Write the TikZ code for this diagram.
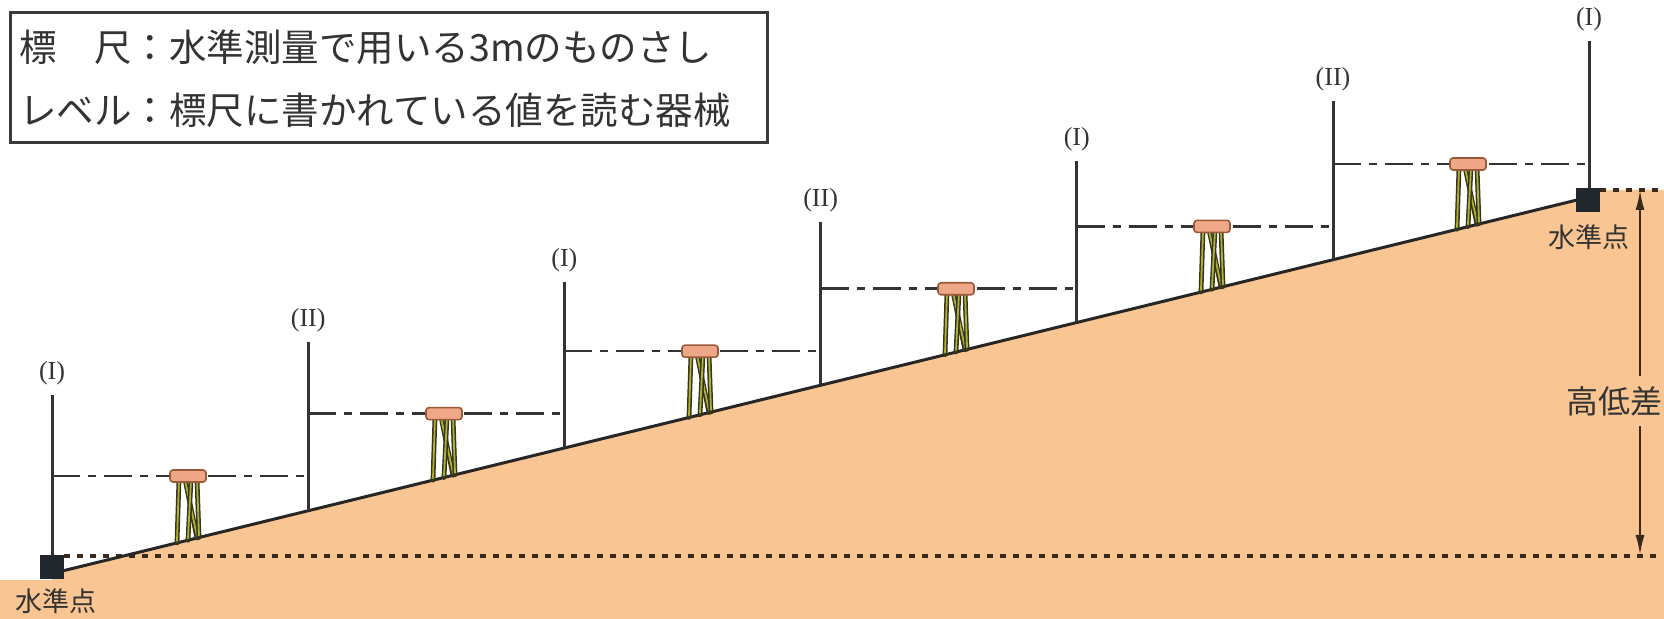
\documentclass[tikz,border=0pt]{standalone}
\usepackage{fontspec}
\setmainfont{Liberation Serif}
\newfontfamily\jpfont{Noto Sans CJK JP}
\usetikzlibrary{arrows.meta,calc}

\definecolor{soil}{HTML}{F9C592}
\definecolor{ink}{HTML}{333333}
\definecolor{boxc}{HTML}{3A3A3A}
\definecolor{benchc}{HTML}{22272E}
\definecolor{dotc}{HTML}{3A2A1C}
\definecolor{headfill}{HTML}{EFA887}
\definecolor{headline}{HTML}{9A5A3A}
\definecolor{legout}{HTML}{34351A}
\definecolor{legin}{HTML}{AEB03A}

\begin{document}
\begin{tikzpicture}[x=0.5pt,y=-0.5pt,
  staffline/.style={draw=ink, line width=1.5pt},
  sightline/.style={draw=ink, line width=1.3pt, dash pattern=on 14pt off 4pt on 4pt off 4pt},
  groundline/.style={draw=black!85, line width=1.5pt},
  levelline/.style={draw=dotc, line width=1.7pt, dash pattern=on 3pt off 3.5pt},
  bench/.style={fill=benchc, minimum size=12pt, inner sep=0pt},
  romanlab/.style={font=\fontsize{13}{13}\selectfont, text=ink, inner sep=0pt},
  jplab/.style={font=\jpfont\fontsize{13.5}{13.5}\selectfont, text=ink, inner sep=0pt},
  legendrow/.style={font=\jpfont\fontsize{18.75}{18.75}\selectfont, text=ink, inner sep=0pt, anchor=west},
  lvhead/.style={draw=headline, fill=headfill, line width=0.8pt, rounded corners=1.5pt,
    minimum width=18pt, minimum height=6pt, inner sep=0pt},
  legouter/.style={draw=legout, line width=2.4pt, line cap=round},
  leginner/.style={draw=legin, line width=0.9pt, line cap=round},
  hdarrow/.style={draw=dotc, line width=1pt,
    {Latex[length=10pt,width=4.5pt]}-{Latex[length=10pt,width=4.5pt]}},
]
\useasboundingbox (0,0) rectangle (1664,619);

% ground body
\fill[soil] (0,580) -- (52,580) -- (52,573.5) -- (1588,197.3) -- (1600,190) -- (1664,190)
  -- (1664,619) -- (0,619) -- cycle;

% bench marks
\node[bench] (bm1) at (52,567) {};
\node[bench] (bm2) at (1588,200) {};

% reference levels through the bench marks
\coordinate (loend) at (1660,556);
\coordinate (hiend) at (1664,190);
\draw[levelline] (bm1.east |- loend) -- (loend);
\draw[levelline] (bm2.east |- hiend) -- (hiend);

% ground surface
\coordinate (g0) at (52,573.5);
\coordinate (g1) at (1588,197.3);
\draw[groundline] (g0) -- (g1);

% staffs with their labels
\foreach \i/\x/\top/\bot/\lab in {0/52/395/567/I, 1/308.2/342/510.7/II, 2/564.4/282/447.9/I,
    3/820.6/222/385.1/II, 4/1076.8/161/322.3/I, 5/1333/101/259.5/II, 6/1589/41/200/I} {
  \coordinate (st\i) at (\x,\top);
  \coordinate (sb\i) at (\x,\bot);
  \draw[staffline] (sb\i) -- (st\i);
  \node[romanlab] (lab\i) at (\x,{\top-22}) {(\lab)};
}

% lines of sight and levels
\foreach \i/\xa/\xb/\y/\cx in {0/52/308.2/476/188, 1/308.2/564.4/413.6/444, 2/564.4/820.6/351.2/700,
    3/820.6/1076.8/288.8/956, 4/1076.8/1333/226.4/1212, 5/1333/1589/164/1468} {
  \coordinate (sa\i) at (\xa,\y);
  \coordinate (sz\i) at (\xb,\y);
  \draw[sightline] (sa\i) -- (sz\i);
  % tripod legs
  \foreach \dt/\db in {-9/-11, -3/9, 3/0, 9/11} {
    \draw[legouter] ({\cx+\dt},{\y+3}) -- ({\cx+\db},{573.5-0.2451*(\cx+\db-52)});
    \draw[leginner] ({\cx+\dt},{\y+4}) -- ({\cx+\db},{573.5-0.2451*(\cx+\db-52)-2});
  }
  \node[lvhead] (lv\i) at (\cx,\y) {};
}

% bench marks on top of the staff feet
\node[bench] at (bm1) {};
\node[bench] at (bm2) {};

% height difference
\coordinate (a1) at (1640,190);
\coordinate (a2) at (1640,555);
\draw[hdarrow] (a1) -- (a2);
\node[font=\jpfont\fontsize{16}{16}\selectfont, fill=soil, text=ink, inner xsep=1pt, inner ysep=5pt]
  (hd) at (1614,401) {高低差};

% bench mark names
\node[jplab] (bmn1) at (56,601) {水準点};
\node[jplab] (bmn2) at (1589,237) {水準点};

% legend
\node[draw=boxc, line width=1.5pt, fill=white, anchor=north west, minimum width=378.5pt,
  minimum height=65pt, inner sep=0pt] (legend) at (8.5,10.6) {};
\node[legendrow] (row1) at (19,47) {標　尺：水準測量で用いる3mのものさし};
\node[legendrow] (row2) at (19,110) {レベル：標尺に書かれている値を読む器械};
\end{tikzpicture}
\end{document}
